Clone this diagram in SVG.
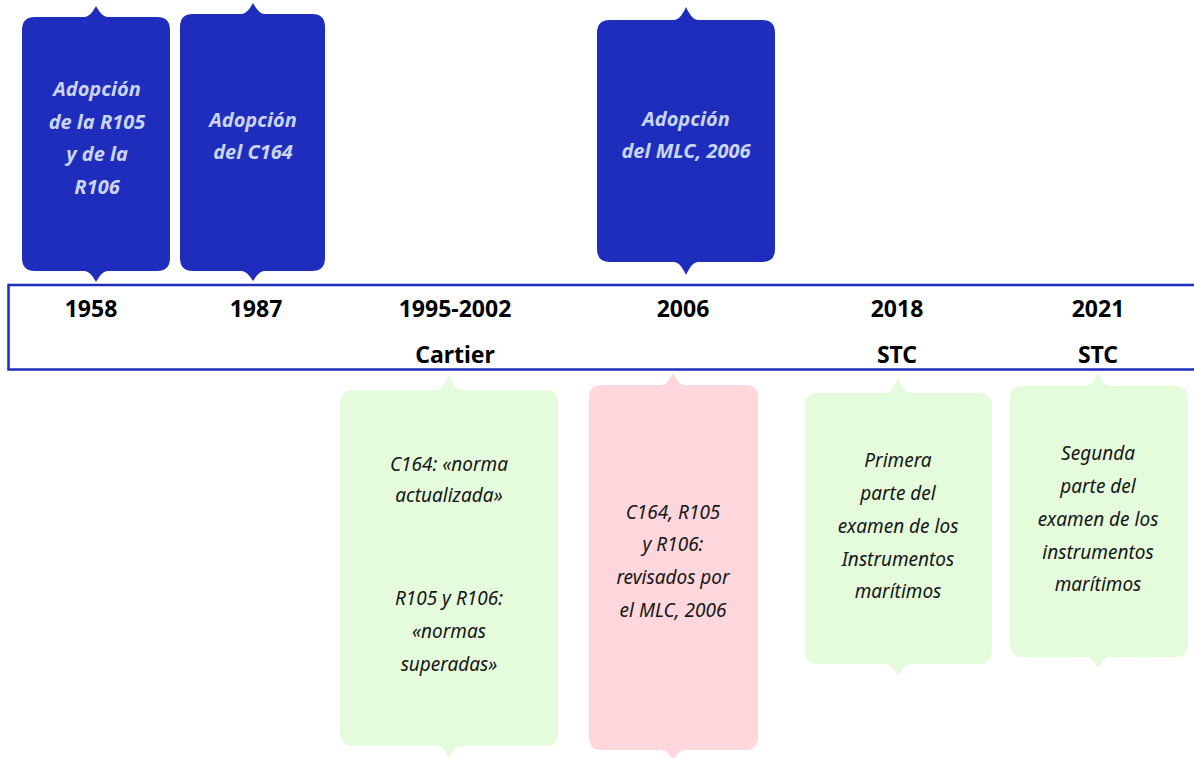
<svg xmlns="http://www.w3.org/2000/svg" width="1194" height="758" viewBox="0 0 1194 758">
<style>
.blue{fill:#1f2dbd}
.green{fill:#e5fcdc}
.pink{fill:#fdd7db}
.bt{font-family:"Noto Sans","Open Sans","DejaVu Sans",sans-serif;font-size:20px;font-weight:700;font-style:italic;fill:#c9d5f2;text-anchor:middle}
.lt{font-family:"Noto Sans","Open Sans","DejaVu Sans",sans-serif;font-size:19px;font-style:italic;fill:#161616;text-anchor:middle}
.yr{font-family:"Noto Sans","Open Sans","DejaVu Sans",sans-serif;font-size:23px;font-weight:700;fill:#000;text-anchor:middle}
.bar{fill:none;stroke:#1f2dbd;stroke-width:2.5}
</style>
<rect width="1194" height="758" fill="#fff"/>
<g id="connectors">
<rect class="bar" x="8.5" y="285" width="1200" height="84.5"/>
</g>
<g id="n1958">
<path class="blue" d="M35,17 H84 C90,17 94,9.3 96,6 C98,9.3 102,17 108,17 H157 Q170,17 170,30 V258 Q170,271 157,271 H108 C102,271 98,278.7 96,282 C94,278.7 90,271 84,271 H35 Q22,271 22,258 V30 Q22,17 35,17 Z"/>
<text class="bt" x="97" y="96">Adopción</text>
<text class="bt" x="97" y="129">de la R105</text>
<text class="bt" x="97" y="161">y de la</text>
<text class="bt" x="97" y="194">R106</text>
</g>
<g id="n1987">
<path class="blue" d="M193,14 H241 C247,14 251,6.3 253,3 C255,6.3 259,14 265,14 H312 Q325,14 325,27 V258 Q325,271 312,271 H265 C259,271 255,278 253,281 C251,278 247,271 241,271 H193 Q180,271 180,258 V27 Q180,14 193,14 Z"/>
<text class="bt" x="253" y="127">Adopción</text>
<text class="bt" x="253" y="159">del C164</text>
</g>
<g id="n2006top">
<path class="blue" d="M610,20 H674 C680,20 684,10.9 686,7 C688,10.9 692,20 698,20 H762 Q775,20 775,33 V249 Q775,262 762,262 H698 C692,262 688,271.1 686,275 C684,271.1 680,262 674,262 H610 Q597,262 597,249 V33 Q597,20 610,20 Z"/>
<text class="bt" x="686" y="126">Adopción</text>
<text class="bt" x="686" y="158">del MLC, 2006</text>
</g>
<g id="years">
<text class="yr" x="91" y="317">1958</text>
<text class="yr" x="256" y="317">1987</text>
<text class="yr" x="455" y="317">1995-2002</text>
<text class="yr" x="455" y="363">Cartier</text>
<text class="yr" x="683" y="317">2006</text>
<text class="yr" x="897" y="317">2018</text>
<text class="yr" x="897" y="363">STC</text>
<text class="yr" x="1098" y="317">2021</text>
<text class="yr" x="1098" y="363">STC</text>
</g>
<g id="n1995">
<path class="green" d="M353,390 H437 C443,390 447,379.5 449,375 C451,379.5 455,390 461,390 H545 Q558,390 558,403 V733 Q558,746 545,746 H461 C455,746 451,754.4 449,758 C447,754.4 443,746 437,746 H353 Q340,746 340,733 V403 Q340,390 353,390 Z"/>
<text class="lt" x="449" y="471">C164: «norma</text>
<text class="lt" x="449" y="502">actualizada»</text>
<text class="lt" x="449" y="605">R105 y R106:</text>
<text class="lt" x="449" y="638">«normas</text>
<text class="lt" x="449" y="671">superadas»</text>
</g>
<g id="n2006bottom">
<path class="pink" d="M602,385 H661 C667,385 671,376.6 673,373 C675,376.6 679,385 685,385 H745 Q758,385 758,398 V737 Q758,750 745,750 H685 C679,750 675,757 673,760 C671,757 667,750 661,750 H602 Q589,750 589,737 V398 Q589,385 602,385 Z"/>
<text class="lt" x="673" y="519">C164, R105</text>
<text class="lt" x="673" y="551">y R106:</text>
<text class="lt" x="673" y="584">revisados por</text>
<text class="lt" x="673" y="617">el MLC, 2006</text>
</g>
<g id="n2018">
<path class="green" d="M818,393 H886 C892,393 896,382.5 898,378 C900,382.5 904,393 910,393 H979 Q992,393 992,406 V651 Q992,664 979,664 H910 C904,664 900,673.1 898,677 C896,673.1 892,664 886,664 H818 Q805,664 805,651 V406 Q805,393 818,393 Z"/>
<text class="lt" x="898" y="467">Primera</text>
<text class="lt" x="898" y="500">parte del</text>
<text class="lt" x="898" y="533">examen de los</text>
<text class="lt" x="898" y="566">Instrumentos</text>
<text class="lt" x="898" y="598">marítimos</text>
</g>
<g id="n2021">
<path class="green" d="M1023,386 H1086 C1092,386 1096,376.9 1098,373 C1100,376.9 1104,386 1110,386 H1175 Q1188,386 1188,399 V644 Q1188,657 1175,657 H1110 C1104,657 1100,665.4 1098,669 C1096,665.4 1092,657 1086,657 H1023 Q1010,657 1010,644 V399 Q1010,386 1023,386 Z"/>
<text class="lt" x="1098" y="460">Segunda</text>
<text class="lt" x="1098" y="493">parte del</text>
<text class="lt" x="1098" y="526">examen de los</text>
<text class="lt" x="1098" y="559">instrumentos</text>
<text class="lt" x="1098" y="591">marítimos</text>
</g>
</svg>
